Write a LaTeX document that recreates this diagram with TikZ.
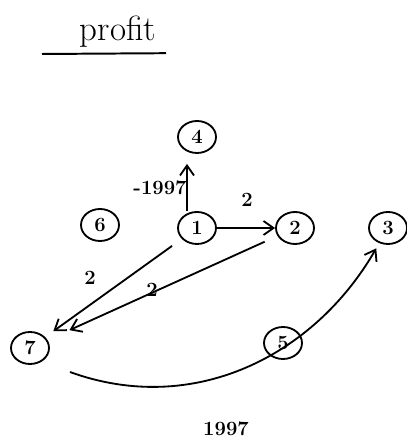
\documentclass[tikz,border=0pt]{standalone}
\usetikzlibrary{arrows.meta}
\tikzset{
    vertex/.style={draw, ellipse, line width=1.3pt, minimum width=0.95cm, minimum height=0.8cm, inner sep=0pt, font=\Large\bfseries},
    edge/.style={line width=1.3pt, -{Straight Barb[length=2.5mm, width=3.5mm]}},
    wlabel/.style={font=\Large\bfseries}
}
\usetikzlibrary{shapes.geometric}
\begin{document}
\begin{tikzpicture}
    \useasboundingbox (0,0) rectangle (10.15,10.95);
    % title
    \node[font=\Huge] (title) at (2.95,10.15) {profit};
    \draw[line width=1.4pt] (1.05,9.6) -- (4.15,9.62);
    % vertices
    \node[vertex] (n4) at (4.925,7.525) {4};
    \node[vertex] (n1) at (4.925,5.25) {1};
    \node[vertex] (n2) at (7.375,5.25) {2};
    \node[vertex] (n6) at (2.5,5.325) {6};
    \node[vertex] (n3) at (9.7,5.25) {3};
    \node[vertex] (n7) at (0.75,2.25) {7};
    \node[vertex] (n5) at (7.075,2.375) {5};
    \coordinate (c7) at (1.75,1.65);
    % edges
    \draw[edge] ([xshift=-0.25cm]n1.north) -- ([xshift=-0.25cm, yshift=-0.25cm]n4.south);
    \draw[edge] (n1) -- (n2);
    \draw[edge, shorten <=0.3cm, shorten >=0.25cm] (n1) -- (n7);
    \draw[edge, shorten <=0.35cm, shorten >=0.6cm] (n2) -- (n7);
    \draw[edge, shorten >=0.15cm] (c7) to[out=-20, in=-120] (n3);
    % weights
    \node[wlabel] (w14) at (4.0,6.25) {-1997};
    \node[wlabel] (w12) at (6.175,5.95) {2};
    \node[wlabel] (w17) at (2.25,4.0) {2};
    \node[wlabel] (w27) at (3.8,3.7) {2};
    \node[wlabel] (w73) at (5.65,0.22) {1997};
\end{tikzpicture}
\end{document}
